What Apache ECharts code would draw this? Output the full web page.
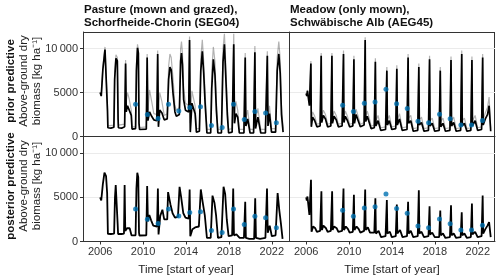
<!DOCTYPE html>
<html><head><meta charset="utf-8">
<script src="https://cdn.jsdelivr.net/npm/echarts@6/dist/echarts.min.js"></script>
<style>html,body{margin:0;padding:0;background:#fff}#c{width:500px;height:280px}</style>
</head><body><div id="c"></div>
<script>
// ---- data ----
var xTickLabels = [2006, 2010, 2014, 2018, 2022];
var yTickValues = [0, 5000, 10000];
var colTitles = ['Pasture (mown and grazed),\nSchorfheide-Chorin (SEG04)', 'Meadow (only mown),\nSchwäbische Alb (AEG45)'];
var rowTitles = ['prior predictive', 'posterior predictive'];

var pastObsYears = [2009.3, 2010.4, 2011.4, 2012.37, 2013.33, 2014.35, 2015.35, 2016.37, 2017.37, 2018.43, 2019.43, 2020.42, 2021.42, 2022.42];
var pastObsValues = [3680, 2510, 2040, 3680, 2890, 3290, 3380, 1260, 1030, 3680, 1930, 2850, 2680, 1560];
var meadObsYears = [2009.4, 2010.4, 2011.42, 2012.42, 2013.44, 2014.43, 2015.42, 2016.42, 2017.41, 2018.43, 2019.42, 2020.42, 2021.41, 2022.43];
var meadObsValues = [3550, 2850, 3790, 3940, 5370, 3740, 3190, 1750, 1560, 2540, 2010, 1300, 1300, 1830];

var pastPriorCore = [
 [2006.0,5000],[2006.1,4600],[2006.25,7600],[2006.45,9900],[2006.6,9900],[2006.68,3000],[2006.72,1000],[2007.0,950],[2007.28,1050],
 [2007.35,6500],[2007.47,8900],[2007.6,8600],[2007.67,2000],[2007.7,1000],[2008.0,950],[2008.28,1100],
 [2008.37,8300],[2008.43,2800],[2008.55,3500],[2008.7,3300],[2008.9,2400],[2008.97,850],[2009.3,900],
 [2009.38,7500],[2009.48,10100],[2009.56,9500],[2009.62,1500],[2009.67,800],[2010.3,850],
 [2010.38,9000],[2010.45,1800],[2010.6,2800],[2010.8,2300],[2011.0,1900],[2011.28,1800],
 [2011.36,9400],[2011.43,1100],[2011.55,3000],[2011.75,2700],[2011.97,1900],[2012.25,2000],
 [2012.38,6500],[2012.5,7900],[2012.62,7600],[2012.8,4800],[2012.97,2800],[2013.1,2300],[2013.38,2500],
 [2013.5,8600],[2013.58,9500],[2013.67,8200],[2013.78,4200],[2013.95,3000],[2014.25,2800],
 [2014.33,11000],[2014.4,500],[2014.55,3800],[2014.7,4000],[2014.85,2600],[2014.97,500],[2015.25,600],
 [2015.38,7500],[2015.52,9700],[2015.65,7200],[2015.78,3800],[2015.95,400],[2016.3,400],
 [2016.4,5500],[2016.55,8800],[2016.7,7000],[2016.83,3000],[2016.97,400],[2017.3,400],
 [2017.45,8500],[2017.58,10500],[2017.7,7000],[2017.85,2500],[2017.97,400],[2018.3,500],
 [2018.45,10500],[2018.52,1500],[2018.65,2600],[2018.82,2200],[2018.97,400],[2019.4,400],
 [2019.52,9000],[2019.58,1200],[2019.75,2000],[2019.97,400],[2020.3,400],
 [2020.42,9600],[2020.48,900],[2020.7,2200],[2020.97,400],[2021.4,400],
 [2021.58,9200],[2021.64,1200],[2021.78,2600],[2021.97,500],[2022.35,500],
 [2022.5,7500],[2022.65,9400],[2022.78,7200],[2022.9,2500],[2023.05,500]
];
var pastPriorUpper = [
 [2006.0,5000],[2006.1,4700],[2006.25,8000],[2006.45,10200],[2006.6,10100],[2006.68,3500],[2006.72,1200],[2007.28,1300],
 [2007.35,7200],[2007.47,9300],[2007.6,9000],[2007.67,2600],[2007.7,1300],[2008.28,1400],
 [2008.37,8700],[2008.43,4000],[2008.55,5000],[2008.7,4300],[2008.9,3000],[2008.97,1100],[2009.3,1100],
 [2009.38,8200],[2009.48,10500],[2009.56,9900],[2009.62,2000],[2009.67,1000],[2010.3,1100],
 [2010.38,9400],[2010.45,3000],[2010.6,5300],[2010.8,4000],[2011.0,2600],[2011.28,2500],
 [2011.36,9800],[2011.43,2500],[2011.55,5000],[2011.75,4000],[2011.97,2400],[2012.25,2600],
 [2012.38,8000],[2012.5,9400],[2012.62,9000],[2012.8,6500],[2012.97,3500],[2013.1,3000],[2013.38,3300],
 [2013.5,10000],[2013.58,10800],[2013.67,9500],[2013.78,5500],[2013.95,3800],[2014.25,3500],
 [2014.33,11400],[2014.4,1500],[2014.55,5200],[2014.7,5300],[2014.85,3500],[2014.97,900],[2015.25,900],
 [2015.38,9000],[2015.52,11000],[2015.65,8500],[2015.78,5000],[2015.95,800],[2016.3,800],
 [2016.4,7500],[2016.55,10200],[2016.7,8500],[2016.83,4000],[2016.97,800],[2017.3,800],
 [2017.45,10000],[2017.58,11700],[2017.7,8500],[2017.85,3500],[2017.97,800],[2018.3,900],
 [2018.45,11700],[2018.52,2500],[2018.65,4000],[2018.82,3000],[2018.97,800],[2019.4,800],
 [2019.52,9500],[2019.58,2000],[2019.75,3000],[2019.97,800],[2020.3,800],
 [2020.42,10300],[2020.48,1800],[2020.7,3200],[2020.97,800],[2021.4,800],
 [2021.58,9700],[2021.64,2000],[2021.78,3500],[2021.97,900],[2022.35,900],
 [2022.5,9000],[2022.65,10800],[2022.78,8800],[2022.9,3500],[2023.05,900]
];
var pastPostCore = [
 [2006.0,5000],[2006.1,4650],[2006.25,6500],[2006.4,7800],[2006.55,7400],[2006.65,5500],[2006.72,860],[2007.0,850],[2007.3,900],
 [2007.38,5000],[2007.45,6400],[2007.55,6200],[2007.63,2000],[2007.67,850],[2008.0,850],[2008.22,900],
 [2008.28,6400],[2008.34,1200],[2008.5,1500],[2008.75,1500],[2008.92,700],[2009.3,700],
 [2009.38,6000],[2009.46,7800],[2009.55,7300],[2009.62,1000],[2009.66,680],[2010.3,700],
 [2010.38,6300],[2010.45,2300],[2010.58,3000],[2010.75,2400],[2010.95,1800],[2011.3,1700],
 [2011.38,6000],[2011.44,800],[2011.6,2900],[2011.8,3600],[2011.97,2500],[2012.25,2500],
 [2012.33,5600],[2012.42,5700],[2012.55,4200],[2012.75,3200],[2012.97,2700],[2013.25,2800],
 [2013.4,6200],[2013.55,5000],[2013.75,3200],[2013.95,2700],[2014.25,2600],
 [2014.34,5900],[2014.4,600],[2014.6,1400],[2014.85,1600],[2015.2,1700],
 [2015.38,5900],[2015.55,4500],[2015.75,3000],[2015.95,400],[2016.3,400],
 [2016.47,5200],[2016.65,4400],[2016.8,3000],[2016.98,400],[2017.3,500],
 [2017.5,6200],[2017.65,5400],[2017.8,2500],[2017.97,600],[2018.3,700],
 [2018.4,6000],[2018.47,700],[2018.7,800],[2019.0,400],[2019.4,400],
 [2019.52,4500],[2019.58,400],[2019.9,300],[2020.35,300],
 [2020.45,4900],[2020.52,400],[2020.9,300],[2021.4,400],
 [2021.55,6000],[2021.62,1000],[2021.8,1800],[2022.0,600],[2022.35,700],
 [2022.54,5500],[2022.7,3500],[2022.85,2000],[2023.0,300]
];
var meadPriorCore = [
 [2006.0,4900],[2006.06,4600],[2006.12,5200],[2006.3,3500],[2006.44,8300],[2006.48,1100],[2006.6,2200],[2006.8,1800],[2007.0,1100],[2007.3,1200],
 [2007.4,9200],[2007.45,1600],[2007.6,2400],[2007.8,2000],[2008.0,1100],[2008.3,1200],
 [2008.4,9200],[2008.45,1500],[2008.6,2300],[2008.8,1900],[2009.0,1100],[2009.35,1200],
 [2009.48,9400],[2009.52,1600],[2009.65,2300],[2009.85,1800],[2010.05,1100],[2010.35,1200],
 [2010.45,8800],[2010.5,1500],[2010.65,2500],[2010.85,1800],[2011.05,1100],[2011.4,1300],
 [2011.5,11000],[2011.55,1700],[2011.7,2300],[2011.9,1500],[2012.05,900],[2012.35,1000],
 [2012.45,8500],[2012.5,1200],[2012.7,1800],[2012.95,700],[2013.4,800],
 [2013.52,7500],[2013.57,1300],[2013.75,1800],[2013.98,800],[2014.35,900],
 [2014.45,7700],[2014.5,1300],[2014.7,2000],[2014.95,700],[2015.4,800],
 [2015.5,9000],[2015.55,1500],[2015.75,1800],[2015.98,600],[2016.4,700],
 [2016.5,7900],[2016.55,1300],[2016.75,1600],[2016.98,600],[2017.4,700],
 [2017.5,8800],[2017.55,1200],[2017.75,1500],[2017.98,600],[2018.4,700],
 [2018.5,7500],[2018.55,1100],[2018.75,1500],[2018.98,600],[2019.4,700],
 [2019.5,8700],[2019.55,1200],[2019.75,1600],[2019.98,600],[2020.4,700],
 [2020.5,9400],[2020.55,1200],[2020.75,1500],[2020.98,600],[2021.35,700],
 [2021.45,8700],[2021.5,1200],[2021.75,1800],[2021.98,700],[2022.35,800],
 [2022.45,9000],[2022.5,1300],[2022.7,2000],[2022.9,2500],[2023.05,3500],[2023.2,600]
];
var meadPriorUpper = [
 [2006.0,4900],[2006.06,4600],[2006.12,5300],[2006.3,3900],[2006.44,8600],[2006.48,1600],[2006.6,2800],[2006.8,2300],[2007.0,1400],[2007.3,1500],
 [2007.4,9500],[2007.45,2200],[2007.6,3000],[2007.8,2500],[2008.0,1400],[2008.3,1500],
 [2008.4,9500],[2008.45,2100],[2008.6,2900],[2008.8,2400],[2009.0,1400],[2009.35,1500],
 [2009.48,9800],[2009.52,2200],[2009.65,2900],[2009.85,2300],[2010.05,1400],[2010.35,1500],
 [2010.45,9200],[2010.5,2100],[2010.65,3100],[2010.85,2300],[2011.05,1400],[2011.4,1600],
 [2011.5,11300],[2011.55,2300],[2011.7,2900],[2011.9,2000],[2012.05,1200],[2012.35,1300],
 [2012.45,8900],[2012.5,1800],[2012.7,2400],[2012.95,1000],[2013.4,1100],
 [2013.52,7900],[2013.57,1900],[2013.75,2400],[2013.98,1100],[2014.35,1200],
 [2014.45,8100],[2014.5,1900],[2014.7,2600],[2014.95,1000],[2015.4,1100],
 [2015.5,9400],[2015.55,2100],[2015.75,2400],[2015.98,900],[2016.4,1000],
 [2016.5,8300],[2016.55,1900],[2016.75,2200],[2016.98,900],[2017.4,1000],
 [2017.5,9200],[2017.55,1800],[2017.75,2100],[2017.98,900],[2018.4,1000],
 [2018.5,7900],[2018.55,1700],[2018.75,2100],[2018.98,900],[2019.4,1000],
 [2019.5,9100],[2019.55,1800],[2019.75,2200],[2019.98,900],[2020.4,1000],
 [2020.5,9800],[2020.55,1800],[2020.75,2100],[2020.98,900],[2021.35,1000],
 [2021.45,9100],[2021.5,1800],[2021.75,2400],[2021.98,1000],[2022.35,1100],
 [2022.45,9400],[2022.5,1900],[2022.7,2700],[2022.9,3300],[2023.05,4500],[2023.2,900]
];
var meadPostCore = [
 [2006.0,5000],[2006.06,4650],[2006.12,5100],[2006.3,3000],[2006.45,7000],[2006.5,1100],[2006.65,1700],[2006.85,1500],[2007.0,1100],[2007.3,1200],
 [2007.42,5700],[2007.47,1300],[2007.6,1800],[2007.85,1500],[2008.0,1100],[2008.3,1200],
 [2008.42,5700],[2008.47,1300],[2008.6,1700],[2008.85,1500],[2009.0,1100],[2009.35,1200],
 [2009.48,6000],[2009.52,1300],[2009.7,1700],[2009.9,1400],[2010.05,1000],[2010.35,1100],
 [2010.45,5300],[2010.5,1300],[2010.7,1700],[2010.9,1400],[2011.05,1000],[2011.4,1200],
 [2011.5,5900],[2011.55,1300],[2011.75,1600],[2011.95,1000],[2012.35,1000],
 [2012.45,4900],[2012.5,900],[2012.75,1200],[2012.98,500],[2013.4,600],
 [2013.52,4700],[2013.57,900],[2013.8,1100],[2013.98,500],[2014.35,600],
 [2014.45,4200],[2014.5,900],[2014.75,1300],[2014.98,500],[2015.4,600],
 [2015.5,4500],[2015.55,900],[2015.75,1200],[2015.98,500],[2016.4,600],
 [2016.5,5800],[2016.55,900],[2016.75,1100],[2016.98,500],[2017.4,600],
 [2017.5,4000],[2017.55,800],[2017.75,1000],[2017.98,500],[2018.4,500],
 [2018.5,3500],[2018.55,700],[2018.75,900],[2018.98,400],[2019.4,500],
 [2019.5,4100],[2019.55,700],[2019.75,900],[2019.98,400],[2020.4,500],
 [2020.5,3300],[2020.55,700],[2020.75,900],[2020.98,400],[2021.35,500],
 [2021.45,4300],[2021.5,800],[2021.75,1100],[2021.98,500],[2022.35,600],
 [2022.45,5200],[2022.5,900],[2022.7,1400],[2022.9,1800],[2023.05,2200],[2023.2,500]
];

// ---- chart ----
var FONT = 'Liberation Sans, Arial, Helvetica, sans-serif';
var grids = [
  {left: 83, top: 32, width: 206, height: 104.5},
  {left: 289, top: 32, width: 206, height: 104.5},
  {left: 83, top: 136.5, width: 206, height: 105},
  {left: 289, top: 136.5, width: 206, height: 105}
];
var xAxes = [], yAxes = [];
for (var i = 0; i < 4; i++) {
  var bottom = i >= 2, left = (i % 2 === 0);
  xAxes.push({
    type: 'value', gridIndex: i, min: 2004.4, max: 2023.6,
    axisLine: {show: true, onZero: false, lineStyle: {color: '#333', width: 1}},
    axisTick: {show: bottom, length: 3, customValues: xTickLabels, lineStyle: {color: '#333'}},
    axisLabel: {show: bottom, customValues: xTickLabels, fontSize: 11, color: '#333', fontFamily: FONT, margin: 5,
      formatter: function (v) { return String(v); }},
    splitLine: {show: false},
    name: bottom ? 'Time [start of year]' : '', nameLocation: 'middle', nameGap: 22,
    nameTextStyle: {fontSize: 11.5, color: '#222', fontFamily: FONT}
  });
  yAxes.push({
    type: 'value', gridIndex: i, min: 0, max: 11900,
    axisLine: {show: true, lineStyle: {color: '#333', width: 1}},
    axisTick: {show: left, length: 3, customValues: yTickValues, lineStyle: {color: '#333'}},
    axisLabel: {show: left, customValues: yTickValues, fontSize: 11, color: '#333', fontFamily: FONT, margin: 5,
      formatter: function (v) { return v >= 10000 ? String(v).replace(/(\d{2})(\d{3})/, '$1\u2009$2') : String(v); }},
    splitLine: {show: true, lineStyle: {color: '#ebebeb', width: 1}}
  });
}
function line(data, gi, color, width, opacity, z) {
  return {type: 'line', data: data, xAxisIndex: gi, yAxisIndex: gi, showSymbol: false, symbol: 'none', silent: true,
    lineStyle: {color: color, width: width, opacity: opacity}, z: z, animation: false};
}
function zipObs(xs, ys) { return xs.map(function (x, k) { return [x, ys[k]]; }); }
function dots(xs, ys, gi) {
  return {type: 'scatter', data: zipObs(xs, ys), xAxisIndex: gi, yAxisIndex: gi, symbolSize: 5,
    itemStyle: {color: '#0072B2'}, z: 10, animation: false};
}
var series = [
  line(pastPriorUpper, 0, '#000', 1.2, 0.3, 2),
  line(pastPriorCore, 0, '#000', 1.7, 1, 3),
  line(meadPriorUpper, 1, '#000', 1.2, 0.3, 2),
  line(meadPriorCore, 1, '#000', 1.7, 1, 3),
  line(pastPostCore, 2, '#000', 1.8, 1, 3),
  line(meadPostCore, 3, '#000', 1.8, 1, 3),
  dots(pastObsYears, pastObsValues, 0),
  dots(meadObsYears, meadObsValues, 1),
  dots(pastObsYears, pastObsValues, 2),
  dots(meadObsYears, meadObsValues, 3)
];
var graphic = [
  {type: 'line', shape: {x1: 83, y1: 32.5, x2: 495, y2: 32.5}, style: {stroke: '#333', lineWidth: 1}},
  {type: 'line', shape: {x1: 494.5, y1: 32, x2: 494.5, y2: 241.5}, style: {stroke: '#333', lineWidth: 1}},
  {type: 'text', left: 84, top: 3, style: {text: colTitles[0], font: 'bold 11.5px ' + FONT, fill: '#111', lineHeight: 13}},
  {type: 'text', left: 290, top: 3, style: {text: colTitles[1], font: 'bold 11.5px ' + FONT, fill: '#111', lineHeight: 13}}
];
var rowCenters = [81, 186];
for (var r = 0; r < 2; r++) {
  graphic.push({type: 'text', x: 11, y: rowCenters[r], rotation: Math.PI / 2,
    style: {text: rowTitles[r], font: 'bold 11.5px ' + FONT, fill: '#111', align: 'center', verticalAlign: 'middle'}});
  graphic.push({type: 'text', x: 24, y: rowCenters[r], rotation: Math.PI / 2,
    style: {text: 'Above-ground dry', font: '11.5px ' + FONT, fill: '#222', align: 'center', verticalAlign: 'middle'}});
  graphic.push({type: 'text', x: 37, y: rowCenters[r], rotation: Math.PI / 2,
    style: {text: 'biomass [kg ha\u207B\u00B9]', font: '11.5px ' + FONT, fill: '#222', align: 'center', verticalAlign: 'middle'}});
}
var chart = echarts.init(document.getElementById('c'), null, {renderer: 'canvas'});
chart.setOption({
  animation: false, backgroundColor: '#fff',
  grid: grids, xAxis: xAxes, yAxis: yAxes, series: series, graphic: graphic
});
</script></body></html>
